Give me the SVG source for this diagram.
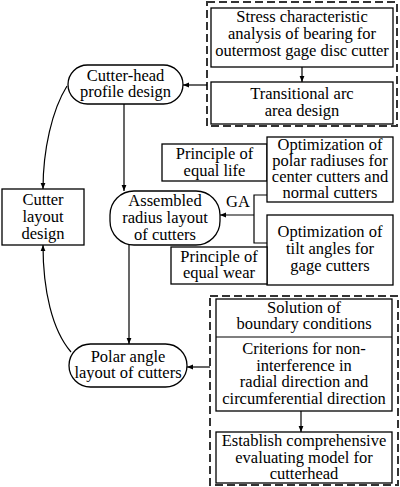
<svg xmlns="http://www.w3.org/2000/svg" width="400" height="487" viewBox="0 0 400 487">
<defs>
<marker id="ah" viewBox="0 0 10 10" refX="10" refY="5" markerWidth="6" markerHeight="6" orient="auto" markerUnits="userSpaceOnUse">
<path d="M0,1 L10,5 L0,9 Z" fill="#000"/>
</marker>
<style>
text{font-family:"Liberation Serif","Times New Roman",serif;font-size:16.5px;fill:#000;text-anchor:middle}
.box{fill:#fff;stroke:#000;stroke-width:1.3}
.dash{fill:none;stroke:#333;stroke-width:2;stroke-dasharray:8 4}
.ln{fill:none;stroke:#000;stroke-width:1.2}
.arr{fill:none;stroke:#000;stroke-width:1.2;marker-end:url(#ah)}
</style>
</defs>
<rect x="0" y="0" width="400" height="487" fill="#fff"/>
<g id="dashed-top"><rect class="dash" x="207" y="2" width="190" height="124"/></g>
<g id="dashed-bottom"><rect class="dash" x="210" y="296" width="188" height="189"/></g>

<g id="stress">
<rect class="box" x="211" y="8" width="182" height="59"/>
<text x="302" y="22">Stress characteristic</text>
<text x="302" y="39">analysis of bearing for</text>
<text x="302" y="56">outermost gage disc cutter</text>
</g>
<g id="transitional">
<rect class="box" x="211" y="82" width="182" height="42"/>
<text x="302" y="99">Transitional arc</text>
<text x="302" y="116">area design</text>
</g>
<g id="profile">
<rect class="box" x="68" y="65" width="115" height="39" rx="19.5"/>
<text x="125.5" y="81">Cutter-head</text>
<text x="125.5" y="97">profile design</text>
</g>
<g id="layout">
<rect class="box" x="2" y="189" width="82" height="56"/>
<text x="43" y="205">Cutter</text>
<text x="43" y="222">layout</text>
<text x="43" y="239">design</text>
</g>
<g id="assembled">
<rect class="box" x="110" y="191" width="110" height="54" rx="24"/>
<text x="165" y="206">Assembled</text>
<text x="165" y="223">radius layout</text>
<text x="165" y="240">of cutters</text>
</g>
<g id="equal-life">
<rect class="box" x="162" y="144" width="105" height="37"/>
<text x="214.5" y="159">Principle of</text>
<text x="214.5" y="176">equal life</text>
</g>
<g id="opt-polar">
<rect class="box" x="267" y="137" width="126" height="65"/>
<text x="330" y="150">Optimization of</text>
<text x="330" y="166">polar radiuses for</text>
<text x="330" y="182">center cutters and</text>
<text x="330" y="198">normal cutters</text>
</g>
<g id="opt-tilt">
<rect class="box" x="267" y="215" width="126" height="70"/>
<text x="330" y="237">Optimization of</text>
<text x="330" y="254">tilt angles for</text>
<text x="330" y="271">gage cutters</text>
</g>
<g id="equal-wear">
<rect class="box" x="171" y="247" width="96" height="37"/>
<text x="219" y="262">Principle of</text>
<text x="219" y="278">equal wear</text>
</g>
<g id="ga-label"><text x="238" y="207">GA</text></g>
<g id="polar">
<rect class="box" x="69" y="344" width="118" height="43" rx="21.5"/>
<text x="128" y="362">Polar angle</text>
<text x="128" y="378">layout of cutters</text>
</g>
<g id="criteria">
<rect class="box" x="216" y="299" width="176" height="112"/>
<line class="ln" x1="216" y1="337" x2="392" y2="337"/>
<text x="304" y="313">Solution of</text>
<text x="304" y="329">boundary conditions</text>
<text x="304" y="354">Criterions for non-</text>
<text x="304" y="371">interference in</text>
<text x="304" y="387">radial direction and</text>
<text x="304" y="404">circumferential direction</text>
</g>
<g id="evaluate">
<rect class="box" x="216" y="432" width="176" height="51"/>
<text x="304" y="446">Establish comprehensive</text>
<text x="304" y="463">evaluating model for</text>
<text x="304" y="479">cutterhead</text>
</g>

<g id="connectors">
<line class="arr" x1="302" y1="67" x2="302" y2="82"/>
<line class="arr" x1="207" y1="85" x2="183" y2="85"/>
<line class="arr" x1="124" y1="104" x2="124" y2="191"/>
<path class="arr" d="M67,86 C52,110 43,150 43,189"/>
<polyline class="ln" points="267,195 254,195 254,243 267,243"/>
<line class="arr" x1="254" y1="215" x2="220" y2="215"/>
<line class="arr" x1="129" y1="245" x2="129" y2="344"/>
<path class="arr" d="M71,352 C52,330 43,290 43,245"/>
<line class="arr" x1="210" y1="367" x2="187" y2="367"/>
<line class="arr" x1="301" y1="411" x2="301" y2="432"/>
</g>
</svg>
